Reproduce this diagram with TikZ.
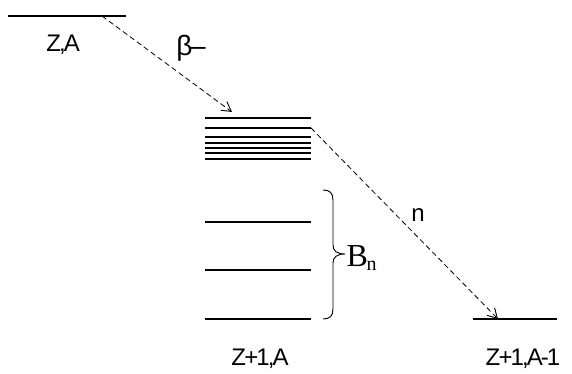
\documentclass[tikz,border=0pt]{standalone}
\usepackage{fontspec}
\setmainfont{Liberation Serif}
\newfontfamily\lblfont{Liberation Sans}[LetterSpace=-8]
\usetikzlibrary{arrows.meta}

\begin{document}
\begin{tikzpicture}[x=0.75pt,y=-0.75pt,
  level/.style={line width=0.9pt},
  decay/.style={line width=0.6pt,dash pattern=on 4pt off 2.5pt,
    -{Straight Barb[length=7pt,width=8pt,line width=0.7pt]}},
  lab/.style={font=\lblfont\fontsize{18}{21}\selectfont}]
  \useasboundingbox (0,0) rectangle (572,374);
  % Parent level
  \draw[level] (8,16) -- (126,16);
  \coordinate (parent) at (102,16);
  \node[lab] (za) at (63,45) {Z,A};
  % Excited levels of Z+1,A
  \foreach \y in {118,128,137,143,148,153,159}
    \draw[level] (205,\y) -- (311,\y);
  \coordinate (top) at (232,112);
  \coordinate (emit) at (311,128);
  % Bound levels
  \foreach \y in {222,270,319}
    \draw[level] (205,\y) -- (311,\y);
  \node[lab] (zpa) at (260,359) {Z+1,A};
  % Final level
  \draw[level] (473,319) -- (557,319);
  \coordinate (final) at (498,319);
  \node[lab] (zpam) at (523,359) {Z+1,A-1};
  % Decays
  \draw[decay] (parent) -- (top);
  \node[lab,font=\lblfont\fontsize{21}{24}\selectfont] (beta) at (191,48) {β–};
  \draw[decay] (emit) -- (final);
  \node[lab] (neut) at (418,215) {n};
  % Separation energy
  \draw[line width=0.7pt] (323,190) .. controls (330,190) and (333,193) .. (333,200)
    -- (333,245) .. controls (333,251) and (337,254) .. (345,254)
    .. controls (337,254) and (333,257) .. (333,263)
    -- (333,309) .. controls (333,316) and (330,319) .. (323,319);
  \coordinate (tip) at (345,254);
  \node[anchor=west,inner sep=0pt,font=\fontsize{24}{27}\selectfont] (bn) at ([xshift=1pt,yshift=-3pt]tip)
    {B\kern-1pt\raisebox{-2.5pt}{\fontsize{15}{15}\selectfont n}};
\end{tikzpicture}
\end{document}
